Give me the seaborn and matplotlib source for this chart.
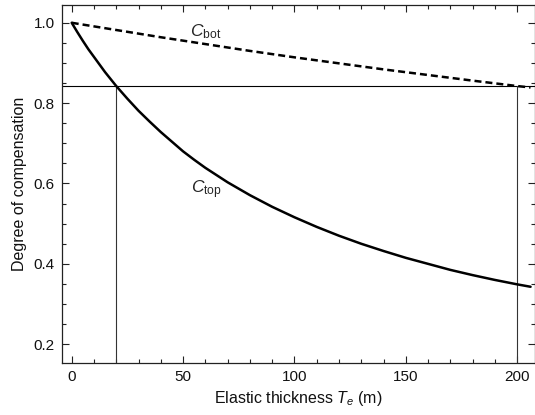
import matplotlib
matplotlib.use("Agg")
import matplotlib.pyplot as plt
import seaborn as sns
import pandas as pd
from matplotlib.ticker import MultipleLocator

# Data
te_top = [0, 2.5, 5, 7.5, 10, 15, 20, 25, 30, 35, 40, 45, 50, 55, 60, 70, 80, 90, 100, 110, 120, 130, 140, 150, 160, 170, 180, 190, 200, 206]
c_top = [1.0, 0.977, 0.955, 0.934, 0.915, 0.877, 0.8425, 0.811, 0.781, 0.754, 0.728, 0.704, 0.680, 0.659, 0.639, 0.603, 0.571, 0.542, 0.516, 0.492, 0.470, 0.450, 0.432, 0.415, 0.400, 0.385, 0.372, 0.360, 0.349, 0.343]
te_bot = [0, 20, 40, 60, 80, 100, 120, 140, 160, 180, 200, 206]
c_bot = [1.0, 0.982, 0.964, 0.947, 0.930, 0.914, 0.899, 0.884, 0.870, 0.856, 0.8425, 0.839]
ref_level = 0.8425
ref_te = [20, 200]
x_ticks = [0, 50, 100, 150, 200]
y_ticks = [0.2, 0.4, 0.6, 0.8, 1.0]

sns.set_theme(style="ticks")
plt.rcParams['font.family'] = ['Liberation Sans', 'DejaVu Sans']
plt.rcParams['mathtext.fontset'] = 'custom'
plt.rcParams['mathtext.rm'] = 'Liberation Sans'
plt.rcParams['mathtext.it'] = 'Liberation Sans:italic'

fig = plt.figure(figsize=(5.35, 4.15), dpi=100)
ax = fig.add_axes([0.1153, 0.126, 0.8847, 0.8627])

df_top = pd.DataFrame({"Te": te_top, "C": c_top})
df_bot = pd.DataFrame({"Te": te_bot, "C": c_bot})

# reference lines
ax.axhline(ref_level, color="black", lw=0.8, zorder=1)
for xv in ref_te:
    ax.plot([xv, xv], [0.0, ref_level], color="#333333", lw=0.8, zorder=1)

sns.lineplot(data=df_top, x="Te", y="C", ax=ax, color="black", lw=1.8, zorder=3)
sns.lineplot(data=df_bot, x="Te", y="C", ax=ax, color="black", lw=1.8, zorder=3,
             dashes=False, linestyle=(0, (2.8, 1.6)))

ax.text(60.3, 0.977, r"$\mathit{C}_{\mathrm{bot}}$", fontsize=12.5, ha="center", va="center")
ax.text(60.3, 0.585, r"$\mathit{C}_{\mathrm{top}}$", fontsize=12.5, ha="center", va="center")

ax.set_xlim(-4.5, 208)
ax.set_ylim(0.154, 1.045)
ax.set_xticks(x_ticks)
ax.set_xticklabels([str(v) for v in x_ticks])
ax.set_yticks(y_ticks)
ax.set_yticklabels([f"{v:.1f}" for v in y_ticks])
ax.xaxis.set_minor_locator(MultipleLocator(10))
ax.yaxis.set_minor_locator(MultipleLocator(0.05))
ax.tick_params(which="both", direction="in", top=True, right=True, color="#222222", width=0.8, labelsize=11, pad=5, labelcolor="#111111")
ax.tick_params(which="major", length=5)
ax.tick_params(which="minor", length=3)
for s in ax.spines.values():
    s.set_color("#222222")
    s.set_linewidth(0.9)

ax.set_xlabel(r"Elastic thickness $\mathit{T}_{\mathit{e}}$ (m)", fontsize=11.5, labelpad=4, color="#111111")
ax.set_ylabel("Degree of compensation", fontsize=11.5, labelpad=5, color="#111111")

fig.savefig("out.png", dpi=100)
